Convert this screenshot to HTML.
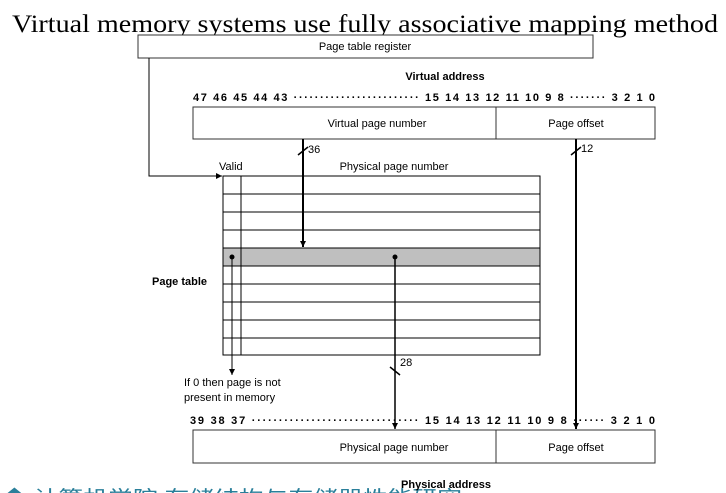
<!DOCTYPE html>
<html><head><meta charset="utf-8"><style>
html,body{margin:0;padding:0;background:#fff;width:726px;height:493px;overflow:hidden;}
svg{display:block;overflow:hidden;}
text{font-family:"Liberation Sans",sans-serif;fill:#000;}
</style></head><body>
<svg width="726" height="493" viewBox="0 0 726 493">
<defs><marker id="ah" markerUnits="userSpaceOnUse" markerWidth="7" markerHeight="7" refX="6" refY="3" orient="auto"><path d="M0,0 L6,3 L0,6 z" fill="#000"/></marker></defs>
<text x="12" y="32" font-size="25" textLength="706" lengthAdjust="spacingAndGlyphs" style="font-family:'Liberation Serif',serif">Virtual memory systems use fully associative mapping method</text>

<g>
<rect x="138" y="35" width="455" height="23" fill="#fff" stroke="#333" stroke-width="1"/>
<text x="365" y="50" font-size="11" text-anchor="middle">Page table register</text>
</g>
<polyline points="149,58 149,176 222,176" fill="none" stroke="#000" stroke-width="1" marker-end="url(#ah)"/>

<text x="445" y="80" font-size="11" font-weight="bold" text-anchor="middle">Virtual address</text>
<text x="193" y="101" font-size="11" font-weight="bold" textLength="462" lengthAdjust="spacing">47 46 45 44 43 ························ 15 14 13 12 11 10 9 8 ······· 3 2 1 0</text>
<g>
<rect x="193" y="107" width="462" height="32" fill="#fff" stroke="#333"/>
<line x1="496" y1="107" x2="496" y2="139" stroke="#333"/>
<text x="377" y="127" font-size="11" text-anchor="middle">Virtual page number</text>
<text x="576" y="127" font-size="11" text-anchor="middle">Page offset</text>
</g>

<text x="219" y="170" font-size="11">Valid</text>
<text x="394" y="170" font-size="11" text-anchor="middle">Physical page number</text>
<text x="152" y="285" font-size="11" font-weight="bold">Page table</text>

<g stroke="#000" stroke-width="1">
<rect x="223" y="248" width="317" height="18" fill="#bfbfbf" stroke="none"/>
<rect x="223" y="176" width="317" height="179" fill="none"/>
<line x1="241" y1="176" x2="241" y2="355"/>
<line x1="223" y1="194" x2="540" y2="194"/><line x1="223" y1="212" x2="540" y2="212"/>
<line x1="223" y1="230" x2="540" y2="230"/><line x1="223" y1="248" x2="540" y2="248"/>
<line x1="223" y1="266" x2="540" y2="266"/><line x1="223" y1="284" x2="540" y2="284"/>
<line x1="223" y1="302" x2="540" y2="302"/><line x1="223" y1="320" x2="540" y2="320"/>
<line x1="223" y1="338" x2="540" y2="338"/>
</g>

<line x1="303" y1="139" x2="303" y2="247" stroke="#000" stroke-width="2" marker-end="url(#ah)"/>
<line x1="298" y1="155" x2="308" y2="147" stroke="#000" stroke-width="1.5"/>
<text x="308" y="153" font-size="11">36</text>

<line x1="576" y1="139" x2="576" y2="429" stroke="#000" stroke-width="2" marker-end="url(#ah)"/>
<line x1="571" y1="155" x2="581" y2="147" stroke="#000" stroke-width="1.5"/>
<text x="581" y="152" font-size="11">12</text>

<circle cx="232" cy="257" r="2.5" fill="#000"/>
<line x1="232" y1="257" x2="232" y2="375" stroke="#000" marker-end="url(#ah)"/>
<circle cx="395" cy="257" r="2.5" fill="#000"/>
<line x1="395" y1="257" x2="395" y2="429" stroke="#000" stroke-width="1.5" marker-end="url(#ah)"/>
<line x1="390" y1="367" x2="400" y2="375" stroke="#000" stroke-width="1.5"/>
<text x="400" y="366" font-size="11">28</text>

<text x="184" y="386" font-size="11">If 0 then page is not</text>
<text x="184" y="401" font-size="11">present in memory</text>

<text x="190" y="424" font-size="11" font-weight="bold" textLength="465" lengthAdjust="spacing">39 38 37 ······························· 15 14 13 12 11 10 9 8 ······ 3 2 1 0</text>
<g>
<rect x="193" y="430" width="462" height="33" fill="#fff" stroke="#333"/>
<line x1="496" y1="430" x2="496" y2="463" stroke="#333"/>
<text x="394" y="451" font-size="11" text-anchor="middle">Physical page number</text>
<text x="576" y="451" font-size="11" text-anchor="middle">Page offset</text>
</g>
<text x="2" y="505" font-size="20" textLength="460" lengthAdjust="spacingAndGlyphs" style="font-family:'Liberation Sans','Noto Sans CJK SC',sans-serif;fill:#2a7f9a">◆  计算机学院  存储结构与存储器性能研究</text>
<text x="446" y="488" font-size="11" font-weight="bold" text-anchor="middle">Physical address</text>
</svg>
</body></html>
